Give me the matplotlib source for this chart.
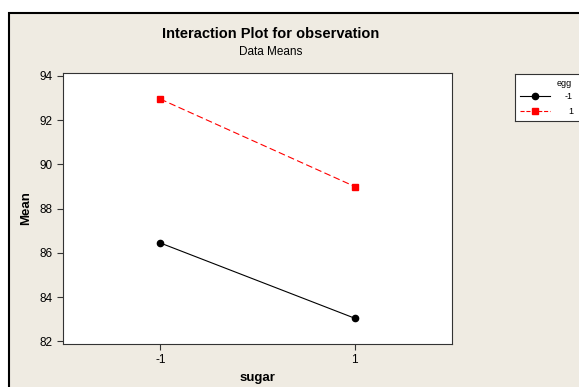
import matplotlib
matplotlib.use("Agg")
import matplotlib.pyplot as plt
from matplotlib.patches import Rectangle
from matplotlib.lines import Line2D

# data: mean of observation by sugar level, one line per egg level
sugar = [-1, 1]
egg_levels = ["-1", "1"]
mean_egg_m1 = [86.45, 83.05]
mean_egg_p1 = [92.95, 89.0]
y_ticks = [82, 84, 86, 88, 90, 92, 94]

plt.rcParams["font.family"] = ["Liberation Sans", "DejaVu Sans"]

W, H = 579, 387
fig = plt.figure(figsize=(W / 100, H / 100), dpi=100)
fig.patch.set_facecolor("white")

# beige Minitab panel
panel = Rectangle((9 / W, -0.05), 1.0, 1 - 13 / H + 0.05, transform=fig.transFigure,
                  facecolor="#EFEBE2", edgecolor="black", linewidth=1.5, zorder=-10)
fig.patches.append(panel)

ax = fig.add_axes([63 / W, (H - 343.7) / H, (452 - 63) / W, (343.7 - 72.7) / H])
ax.set_facecolor("white")

ax.plot(sugar, mean_egg_m1, color="black", linestyle="-", linewidth=0.8,
        marker="o", markersize=4.5)
ax.plot(sugar, mean_egg_p1, color="red", linestyle=(0, (6, 3)), linewidth=0.8,
        marker="s", markersize=5)

ax.set_xlim(-2, 2)
ax.set_ylim(81.9, 94.14)
ax.set_xticks(sugar)
ax.set_xticklabels(["-1", "1"])
ax.set_yticks(y_ticks)
ax.tick_params(direction="out", length=4, width=0.8, labelsize=8.5, colors="#333333",
               labelcolor="black")
for sp in ax.spines.values():
    sp.set_linewidth(0.8)
    sp.set_color("#333333")

ax.set_xlabel("sugar", fontsize=9.5, fontweight="bold", labelpad=4)
ax.set_ylabel("Mean", fontsize=9.5, fontweight="bold", labelpad=5)

fig.text(271 / W, 1 - 34 / H, "Interaction Plot for observation", ha="center", va="center",
         fontsize=10.5, fontweight="bold")
fig.text(271 / W, 1 - 52 / H, "Data Means", ha="center", va="center", fontsize=8.5)

# legend box
lax = fig.add_axes([515 / W, (H - 120.5) / H, 80 / W, 47 / H])
lax.set_xlim(0, 80)
lax.set_ylim(47, 0)
lax.set_xticks([])
lax.set_yticks([])
lax.set_facecolor("white")
for sp in lax.spines.values():
    sp.set_linewidth(0.8)
    sp.set_color("#333333")
lax.text(57, 10, "egg", ha="right", va="center", fontsize=6.5)
styles = [dict(color="black", linestyle="-", marker="o", ms=4.5),
          dict(color="red", linestyle="--", marker="s", ms=5)]
for i, (lab, st) in enumerate(zip(egg_levels, styles)):
    yy = 22.7 + i * 15
    lax.add_line(Line2D([5, 35], [yy, yy], linewidth=0.8, color=st["color"],
                        linestyle=st["linestyle"]))
    lax.add_line(Line2D([20], [yy], linewidth=0, markersize=st["ms"],
                        marker=st["marker"], color=st["color"]))
    lax.text(58, yy, lab, ha="right", va="center", fontsize=6.5)

fig.savefig("out.png", dpi=100, facecolor="white")
